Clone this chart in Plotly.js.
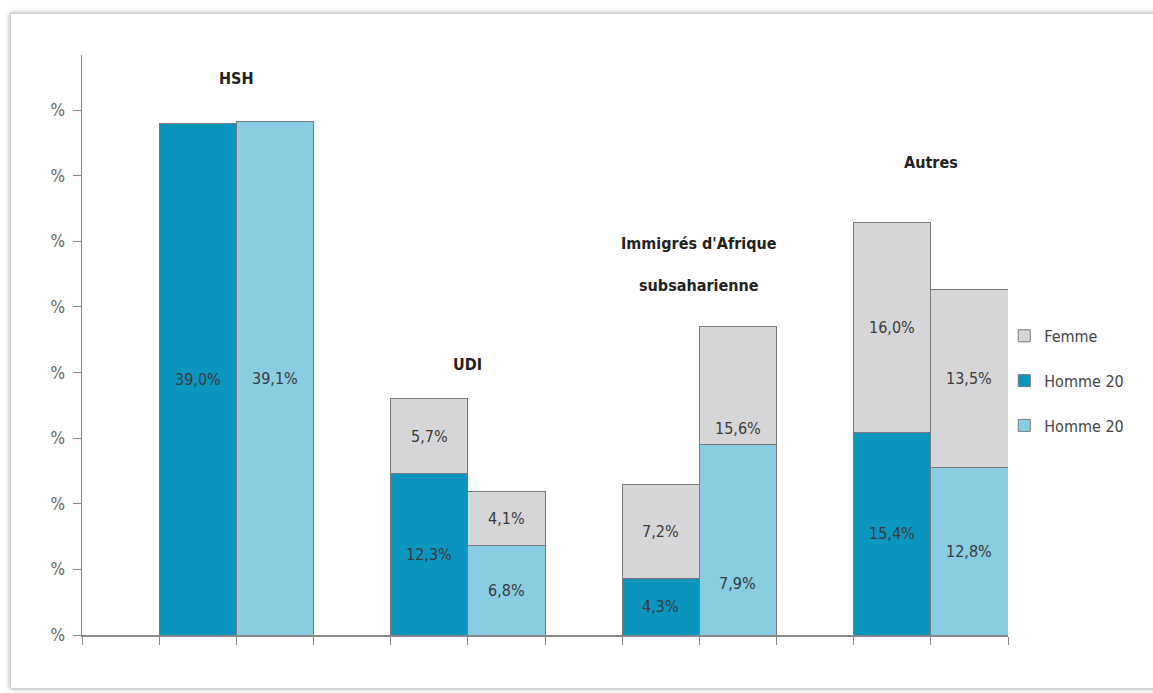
<!DOCTYPE html>
<html>
<head>
<meta charset="utf-8">
<script src="https://cdn.plot.ly/plotly-3.0.1.min.js"></script>
<style>
  html, body { margin: 0; padding: 0; background: #fff; }
  #frame { position: absolute; left: 10px; top: 13px; width: 1160px; height: 674px;
           border: 1px solid #cfcfcf; box-shadow: 0 0 5px rgba(0,0,0,0.35); background: #fff; }
  #chart { position: absolute; left: 0; top: 0; width: 1153px; height: 693px; }
</style>
</head>
<body>
<div id="frame"></div>
<div id="chart"></div>
<script>
// Groups and series values (%) — labelled values
const groups = ["HSH", "UDI", "Immigrés d'Afrique<br>subsaharienne", "Autres"];
const hommeDark = [39.0, 12.3, 4.3, 15.4];
const hommeLight = [39.1, 6.8, 7.9, 12.8];
const femmeDark = [null, 5.7, 7.2, 16.0];
const femmeLight = [null, 4.1, 15.6, 13.5];
// Heights of the coloured fills as drawn in the picture (the light Immigrés bar is drawn 14.5 / 9.0)
const hommeLightDrawn = [39.1, 6.8, 14.5, 12.8];
const femmeLightDrawn = [null, 4.1, 9.0, 13.5];
const seriesNames = ["Femme", "Homme 20", "Homme 20"];
const yTickVals = [0, 5, 10, 15, 20, 25, 30, 35, 40];
const yTickText = ["%", "%", "%", "%", "%", "%", "%", "%", "%"];
const groupLabelY = [42.4, 20.6, 28.2, 36.0];

const FONT = '"Liberation Sans Narrow", "DejaVu Sans Condensed", "Arial Narrow", sans-serif';
const fmt = v => (v == null ? "" : v.toFixed(1).replace(".", ",") + "%");

// slot layout: each group uses 3 slots (gap, dark, light)
const xDark = groups.map((g, i) => i * 3 + 1.5);
const xLight = groups.map((g, i) => i * 3 + 2.5);

const outline = { color: "#7a7a7a", width: 1 };
const common = { width: 1, hoverinfo: "skip", textposition: "none" };

const traces = [
  Object.assign({
    type: "bar", name: seriesNames[1], x: xDark, y: hommeDark,
    marker: { color: "#0a95be", line: outline }, legendrank: 2
  }, common),
  Object.assign({
    type: "bar", name: seriesNames[2], x: xLight, y: hommeLightDrawn,
    marker: { color: "#88cde2", line: outline }, legendrank: 3
  }, common),
  Object.assign({
    type: "bar", name: seriesNames[0], x: xDark.concat(xLight),
    y: femmeDark.concat(femmeLightDrawn),
    marker: { color: "#d6d6d8", line: outline }, legendrank: 1
  }, common)
];
traces.forEach((t, i) => { t.legendgroup = "g" + i; });

const labelFont = { family: FONT, size: 16, color: "#3a3a3a" };
const annotations = [];
function addSegLabels(xs, bottoms, tops) {
  xs.forEach((x, i) => {
    if (bottoms[i] != null) annotations.push({ x: x, y: bottoms[i] / 2, text: fmt(bottoms[i]),
      xref: "x", yref: "y", showarrow: false, font: labelFont });
    if (tops[i] != null) annotations.push({ x: x, y: bottoms[i] + tops[i] / 2, text: fmt(tops[i]),
      xref: "x", yref: "y", showarrow: false, font: labelFont });
  });
}
addSegLabels(xDark, hommeDark, femmeDark);
addSegLabels(xLight, hommeLight, femmeLight);

groups.forEach((g, i) => {
  const txt = g.split("<br>").map(s => "<b>" + s + "</b>").join("<br><br>");
  annotations.push({
    x: i * 3 + 2, y: groupLabelY[i], xref: "x", yref: "y", text: txt,
    showarrow: false, font: { family: FONT, size: 16, color: "#222" }, align: "center",
    yanchor: "middle"
  });
});

const layout = {
  width: 1153, height: 693,
  paper_bgcolor: "rgba(0,0,0,0)", plot_bgcolor: "rgba(0,0,0,0)",
  margin: { l: 82, r: 145, t: 55, b: 58 },
  barmode: "stack", bargap: 0,
  font: { family: FONT, size: 16, color: "#555" },
  xaxis: {
    range: [0, 12], tickvals: [0,1,2,3,4,5,6,7,8,9,10,11,12], showticklabels: false,
    ticks: "outside", ticklen: 8, tickcolor: "#888", showline: true, linecolor: "#888",
    linewidth: 1.5, showgrid: false, zeroline: false, fixedrange: true
  },
  yaxis: {
    range: [0, 44.2], tickvals: yTickVals, ticktext: yTickText,
    ticks: "outside", ticklen: 8, tickcolor: "#888", showline: true, linecolor: "#888",
    linewidth: 1.5, showgrid: false, zeroline: false, ticklabelstandoff: 4,
    tickfont: { family: FONT, size: 17, color: "#666" }
  },
  legend: {
    x: 0.996, y: 0.545, xanchor: "left", yanchor: "top",
    traceorder: "grouped", tracegroupgap: 21,
    font: { family: FONT, size: 16, color: "#444" }, itemwidth: 30
  },
  annotations: annotations,
  showlegend: true
};

Plotly.newPlot("chart", traces, layout, { displayModeBar: false, staticPlot: true });
</script>
</body>
</html>
